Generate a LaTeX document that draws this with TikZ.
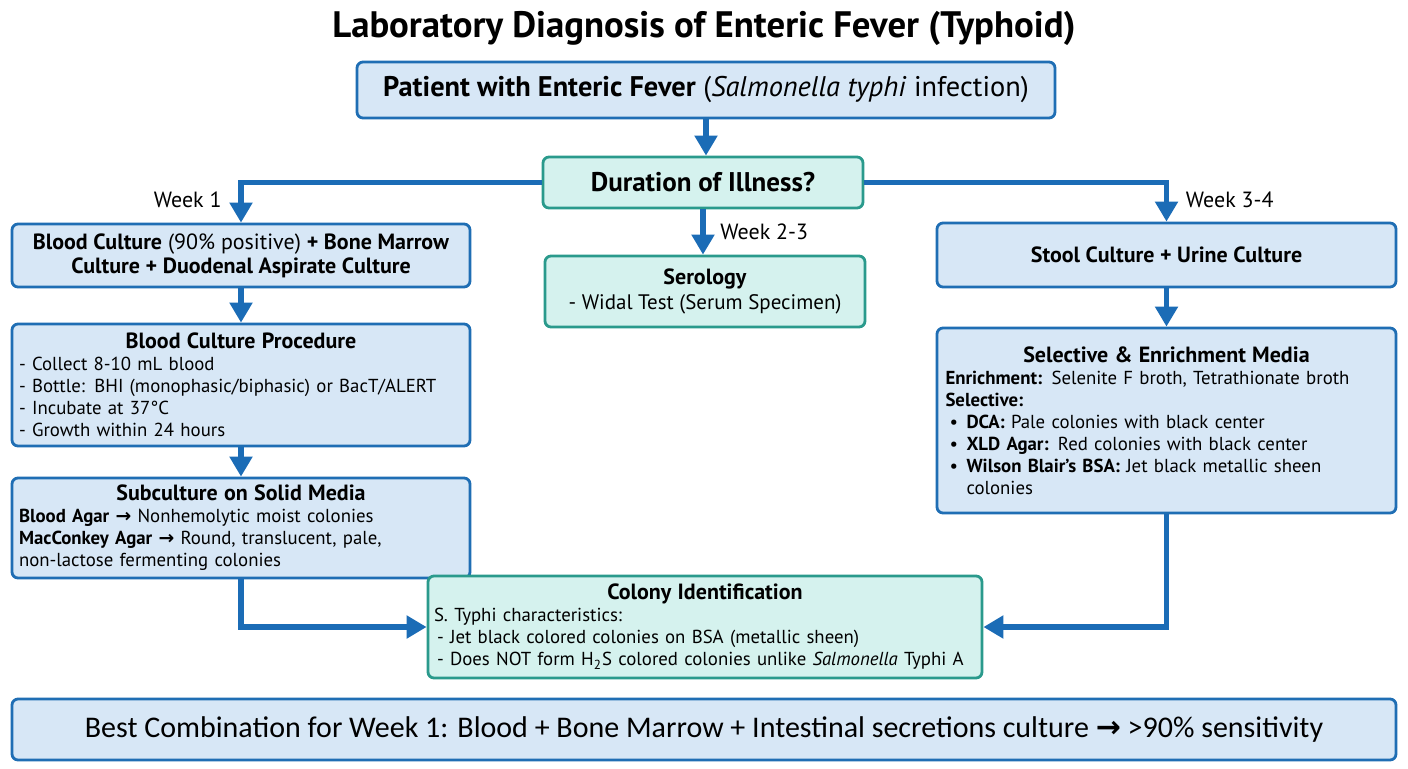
\documentclass[tikz,border=0pt]{standalone}
\usepackage{fontspec}
\setmainfont{PT Sans}
\newfontfamily\calfont{Carlito}
\newfontfamily\symfont{DejaVu Sans}
\usetikzlibrary{arrows.meta, positioning, calc}

\definecolor{edgeblue}{HTML}{1F6EB4}
\definecolor{fillblue}{HTML}{D7E7F6}
\definecolor{edgeteal}{HTML}{2A9A8C}
\definecolor{fillteal}{HTML}{D5F2EE}
\definecolor{linkblue}{HTML}{1B6CB6}

\newcommand{\toarrow}{{\symfont\bfseries →}}
\newcommand{\boxhead}[1]{\makebox[\linewidth][c]{\fontsize{11}{13}\selectfont\bfseries #1}}
\newcommand{\dotitem}{\hspace*{2pt}\makebox[8.5pt][l]{\textbullet}}

\begin{document}
\begin{tikzpicture}[
    x=0.5pt, y=-0.5pt,
    bluebox/.style={rectangle, rounded corners=3pt, draw=edgeblue, fill=fillblue, line width=1.4pt, inner sep=3pt},
    tealbox/.style={rectangle, rounded corners=3pt, draw=edgeteal, fill=fillteal, line width=1.4pt, inner sep=3pt},
    bodytext/.style={font=\fontsize{9.4}{11}\selectfont},
    weektext/.style={font=\fontsize{11}{13}\selectfont},
    flow/.style={draw=linkblue, line width=2.7pt, -{Triangle[width=11pt,length=10pt]}}
]
    \useasboundingbox[fill=white] (0,0) rectangle (1408,768);

    % Title and top
    \node[font=\fontsize{18.4}{21}\selectfont\bfseries] (title) at (704,28) {Laboratory Diagnosis of Enteric Fever (Typhoid)};
    \node[bluebox, minimum width=349pt, minimum height=28pt, font=\fontsize{14.2}{17}\selectfont] (patient) at (706,90)
        {\textbf{Patient with Enteric Fever} (\textit{Salmonella typhi} infection)};
    \node[tealbox, minimum width=160pt, minimum height=25.5pt, font=\fontsize{13.5}{16}\selectfont\bfseries] (duration) at (703,182.5)
        {Duration of Illness?};

    % Left column: week 1
    \node[bluebox, minimum width=229pt, minimum height=31.5pt, align=center, font=\fontsize{11}{12}\selectfont] (blood) at (241,255.5)
        {\textbf{Blood Culture} (90\% positive) \textbf{+ Bone Marrow}\\\textbf{Culture + Duodenal Aspirate Culture}};
    \node[bluebox, minimum width=229pt, minimum height=61pt, text width=222pt, align=left, bodytext] (procedure) at (241,385)
        {\boxhead{Blood Culture Procedure}\\
         - Collect 8-10 mL blood\\
         - Bottle: BHI (monophasic/biphasic) or BacT/ALERT\\
         - Incubate at 37°C\\
         - Growth within 24 hours};
    \node[bluebox, minimum width=229pt, minimum height=50pt, text width=222pt, align=left, bodytext] (subculture) at (241,528)
        {\boxhead{Subculture on Solid Media}\\
         \textbf{Blood Agar} \toarrow{} Nonhemolytic moist colonies\\
         \textbf{MacConkey Agar} \toarrow{} Round, translucent, pale,\\
         non-lactose fermenting colonies};

    % Middle: week 2-3
    \node[tealbox, minimum width=160pt, minimum height=35.5pt, align=center, font=\fontsize{10.5}{12.5}\selectfont] (serology) at (705,291.5)
        {\textbf{\fontsize{11}{13}\selectfont Serology}\\- Widal Test (Serum Specimen)};

    % Right column: week 3-4
    \node[bluebox, minimum width=229.5pt, minimum height=32pt, font=\fontsize{11}{13}\selectfont\bfseries] (stool) at (1166.5,255)
        {Stool Culture + Urine Culture};
    \node[bluebox, minimum width=229.5pt, minimum height=92.5pt, text width=221pt, align=left, bodytext] (selective) at (1166.5,420.5)
        {\boxhead{Selective \& Enrichment Media}\\
         \textbf{Enrichment:} Selenite F broth, Tetrathionate broth\\
         \textbf{Selective:}\\
         \dotitem\textbf{DCA:} Pale colonies with black center\\
         \dotitem\textbf{XLD Agar:} Red colonies with black center\\
         \dotitem\textbf{Wilson Blair's BSA:} Jet black metallic sheen\\
         \hspace*{10.5pt}colonies};

    % Identification and summary
    \node[tealbox, minimum width=277pt, minimum height=51pt, text width=271pt, align=left, bodytext] (colony) at (705,627)
        {\boxhead{Colony Identification}\\
         S. Typhi characteristics:\\
         \hspace*{1.5pt}- Jet black colored colonies on BSA (metallic sheen)\\
         \hspace*{1.5pt}- Does NOT form H\textsubscript{2}S colored colonies unlike \textit{Salmonella} Typhi A};
    \node[bluebox, minimum width=692pt, minimum height=30.5pt, font=\calfont\fontsize{15}{18}\selectfont] (best) at (704,729.5)
        {Best Combination for Week 1: Blood + Bone Marrow + Intestinal secretions culture \toarrow{} >90\% sensitivity};

    % Connections
    \draw[flow] (patient.south) -- (patient.south |- duration.north);
    \draw[flow] (duration.west) -| node[weektext, left=5pt, pos=0.72] {Week 1} (blood.north);
    \draw[flow] (duration.east) -| node[weektext, right=5pt, pos=0.72] {Week 3-4} (stool.north);
    \draw[flow] (duration.south) -- node[weektext, right=4pt] {Week 2-3} (duration.south |- serology.north);

    \draw[flow] (blood) -- (procedure);
    \draw[flow] (procedure) -- (subculture);
    \draw[flow] (stool) -- (selective);

    \draw[flow] (subculture.south) |- (colony.west);
    \draw[flow] (selective.south) |- (colony.east);

\end{tikzpicture}
\end{document}
